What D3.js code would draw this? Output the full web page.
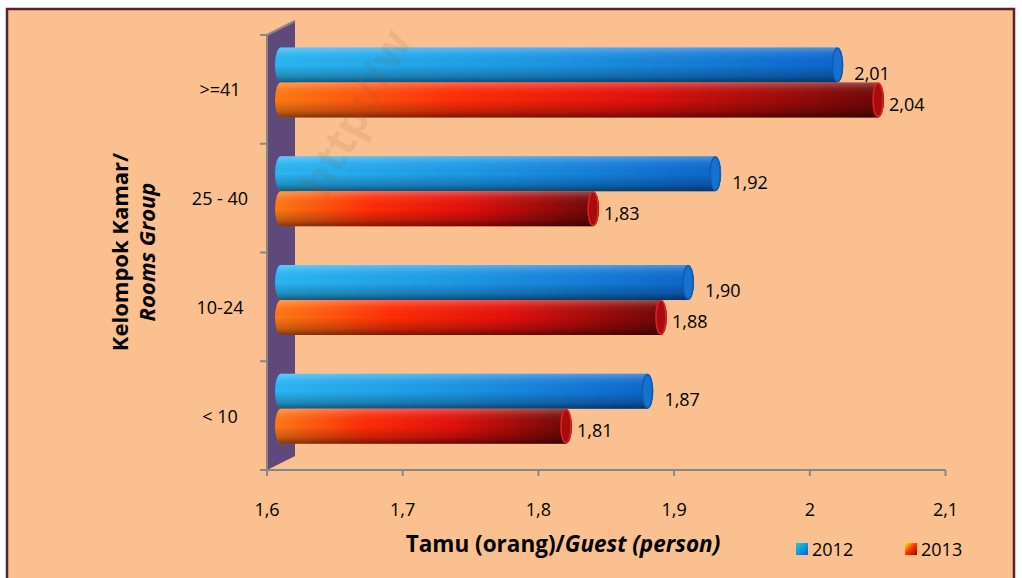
<!DOCTYPE html>
<html>
<head>
<meta charset="utf-8">
<script src="https://cdn.jsdelivr.net/npm/d3@7"></script>
<style>
  html, body { margin: 0; padding: 0; background: #ffffff; }
  svg { display: block; }
  text { font-family: "Open Sans", Lato, "Liberation Sans", sans-serif; fill: #000; }
</style>
</head>
<body>
<svg id="chart" width="1022" height="578"></svg>
<script>
// Average guests per room group, 2012 vs 2013
const categories = [">=41", "25 - 40", "10-24", "< 10"];
const values2012 = [2.01, 1.92, 1.90, 1.87];
const values2013 = [2.04, 1.83, 1.88, 1.81];
const seriesNames = ["2012", "2013"];
const xTickValues = [1.6, 1.7, 1.8, 1.9, 2.0, 2.1];
const xDomain = [1.6, 2.1];
const xTitleMain = "Tamu (orang)/";
const xTitleItalic = "Guest (person)";
const yTitleLine1 = "Kelompok Kamar/";
const yTitleLine2 = "Rooms Group";
const stampText = "http://w";

const series = [
  { name: seriesNames[0], values: values2012 },
  { name: seriesNames[1], values: values2013 }
];

const svg = d3.select("#chart");
const W = 1022, H = 578;

// plot geometry
const plot = { left: 267, right: 945.5, top: 35, bottom: 470 };
const depthX = 28, depthY = -14;       // back wall offset
const barShiftX = 14, barShiftY = -7;  // bars sit halfway into the depth
const capRx = 6;
const barH = 35;
const labelSize = "18px";
const titleSize = "22.5px";

const idFmt = d3.formatLocale({ decimal: ",", thousands: ".", grouping: [3], currency: ["", ""] });
const tickFmt = idFmt.format(".2~f");
const valFmt = idFmt.format(".2f");

const x = d3.scaleLinear().domain(xDomain).range([plot.left, plot.right]);
const y = d3.scaleBand().domain(categories).range([plot.top, plot.bottom]);
const yInner = d3.scaleBand().domain(seriesNames).range([0, barH * 2]);

// ---- gradients ----
const defs = svg.append("defs");
const blueG = defs.append("linearGradient").attr("id", "gBlue")
  .attr("x1", 0).attr("y1", 0).attr("x2", 1).attr("y2", 0);
[[0, "#2ab6f3"], [0.45, "#1c98e6"], [1, "#0c66cc"]].forEach(([o, c]) =>
  blueG.append("stop").attr("offset", o).attr("stop-color", c));
const redG = defs.append("linearGradient").attr("id", "gRed")
  .attr("x1", 0).attr("y1", 0).attr("x2", 1).attr("y2", 0);
[[0, "#ff7a12"], [0.3, "#ff2c06"], [0.6, "#e3100c"], [1, "#6c0707"]].forEach(([o, c]) =>
  redG.append("stop").attr("offset", o).attr("stop-color", c));
const shade = defs.append("linearGradient").attr("id", "gShade")
  .attr("x1", 0).attr("y1", 0).attr("x2", 0).attr("y2", 1);
[[0, "#ffffff", 0.28], [0.18, "#ffffff", 0.08], [0.5, "#000000", 0], [0.82, "#000000", 0.22], [1, "#000000", 0.5]]
  .forEach(([o, c, a]) => shade.append("stop").attr("offset", o).attr("stop-color", c).attr("stop-opacity", a));
const legBlue = defs.append("linearGradient").attr("id", "gLegBlue")
  .attr("x1", 0).attr("y1", 0).attr("x2", 1).attr("y2", 1);
[[0, "#12d4d8"], [1, "#0a5ed8"]].forEach(([o, c]) => legBlue.append("stop").attr("offset", o).attr("stop-color", c));
const legRed = defs.append("linearGradient").attr("id", "gLegRed")
  .attr("x1", 0).attr("y1", 0).attr("x2", 1).attr("y2", 1);
[[0, "#ffee00"], [0.5, "#ff3000"], [1, "#a00000"]].forEach(([o, c]) => legRed.append("stop").attr("offset", o).attr("stop-color", c));

const fills = { "2012": "url(#gBlue)", "2013": "url(#gRed)" };
const capFill = { "2012": "#1672d0", "2013": "#a80c0c" };
const capStroke = { "2012": "#0d5cb4", "2013": "#e42222" };

// ---- background and frame ----
svg.append("rect").attr("x", 0).attr("y", 0).attr("width", W).attr("height", H).attr("fill", "#ffffff");
svg.append("rect").attr("x", 7).attr("y", 9).attr("width", 1007).attr("height", 580)
  .attr("fill", "#fac08f").attr("stroke", "#5e2222").attr("stroke-width", 2.5);

// ---- back wall (left side wall of the 3D plot) ----
const x0 = x(xDomain[0]);
svg.append("path")
  .attr("d", `M${x0},${plot.bottom} L${x0},${plot.top} L${x0 + depthX},${plot.top + depthY} L${x0 + depthX},${plot.bottom + depthY} Z`)
  .attr("fill", "#5f497a");
svg.append("line")
  .attr("x1", x0).attr("y1", plot.top).attr("x2", x0 + depthX).attr("y2", plot.top + depthY)
  .attr("stroke", "#868686").attr("stroke-width", 2);

// ---- axes ----
const axisColor = "#868686";
const yAxisG = svg.append("g");
yAxisG.append("line").attr("x1", x0).attr("x2", x0).attr("y1", plot.top).attr("y2", plot.bottom)
  .attr("stroke", axisColor).attr("stroke-width", 2);
const yBounds = categories.map(c => y(c)).concat([plot.bottom]);
yAxisG.selectAll("line.tick").data(yBounds).enter().append("line").attr("class", "tick")
  .attr("x1", x0 - 7).attr("x2", x0).attr("y1", d => d).attr("y2", d => d)
  .attr("stroke", axisColor).attr("stroke-width", 2);
yAxisG.selectAll("text").data(categories).enter().append("text")
  .attr("x", 220).attr("y", d => y(d) + y.bandwidth() / 2)
  .attr("text-anchor", "middle").attr("dominant-baseline", "central")
  .style("font-size", labelSize).text(d => d);

const xAxisG = svg.append("g");
xAxisG.append("line").attr("x1", x0 - 7).attr("x2", plot.right).attr("y1", plot.bottom).attr("y2", plot.bottom)
  .attr("stroke", axisColor).attr("stroke-width", 2);
xAxisG.selectAll("line.tick").data(xTickValues).enter().append("line").attr("class", "tick")
  .attr("x1", d => x(d)).attr("x2", d => x(d)).attr("y1", plot.bottom).attr("y2", plot.bottom + 6)
  .attr("stroke", axisColor).attr("stroke-width", 2);
xAxisG.selectAll("text").data(xTickValues).enter().append("text")
  .attr("x", d => x(d)).attr("y", 509)
  .attr("text-anchor", "middle").attr("dominant-baseline", "central")
  .style("font-size", labelSize).text(d => tickFmt(d));

// ---- cylinder bars ----
function cylPath(L, R, t, b) {
  const ry = (b - t) / 2;
  return `M${L},${t} L${R},${t} A${capRx},${ry} 0 0 1 ${R},${b} L${L},${b} A${capRx},${ry} 0 0 1 ${L},${t} Z`;
}

const groups = svg.append("g").selectAll("g").data(categories).enter().append("g")
  .attr("transform", d => `translate(0,${y(d) + (y.bandwidth() - barH * 2) / 2 + barShiftY})`);

const bars = groups.selectAll("g.bar")
  .data((c, i) => series.map(s => ({ cat: c, name: s.name, value: s.values[i] })))
  .enter().append("g").attr("class", "bar");

bars.each(function (d) {
  const g = d3.select(this);
  const t = yInner(d.name), b = t + yInner.bandwidth();
  const L = x(xDomain[0]) + barShiftX, R = x(d.value) + barShiftX;
  const p = cylPath(L, R, t, b);
  g.append("path").attr("d", p).attr("fill", fills[d.name]);
  g.append("path").attr("d", p).attr("fill", "url(#gShade)");
  g.append("ellipse").attr("cx", R).attr("cy", (t + b) / 2).attr("rx", capRx - 1).attr("ry", (b - t) / 2 - 0.8)
    .attr("fill", capFill[d.name]).attr("stroke", capStroke[d.name]).attr("stroke-width", 1.5);
  const isFirst = d.name === seriesNames[0];
  g.append("text")
    .attr("x", R + capRx + (isFirst ? 11 : 5))
    .attr("y", (t + b) / 2 + (isFirst ? 8 : 4))
    .attr("dominant-baseline", "central")
    .style("font-size", labelSize)
    .text(valFmt(d.value));
});

// ---- axis titles ----
const xt = svg.append("text").attr("x", 563).attr("y", 543)
  .attr("text-anchor", "middle").attr("dominant-baseline", "central")
  .style("font-size", titleSize).style("font-weight", "bold");
xt.append("tspan").text(xTitleMain);
xt.append("tspan").style("font-style", "italic").text(xTitleItalic);

const yt = svg.append("text").attr("transform", "translate(133,252) rotate(-90)")
  .attr("text-anchor", "middle").style("font-size", "22px").style("font-weight", "bold");
yt.append("tspan").attr("x", 0).attr("dy", "-0.25em").text(yTitleLine1);
yt.append("tspan").attr("x", 0).attr("dy", "1.25em").style("font-style", "italic").text(yTitleLine2);

// ---- legend ----
const legend = svg.append("g");
const legendX = [796, 905];
seriesNames.forEach((n, i) => {
  legend.append("rect").attr("x", legendX[i]).attr("y", 543).attr("width", 12).attr("height", 12)
    .attr("fill", i === 0 ? "url(#gLegBlue)" : "url(#gLegRed)");
  legend.append("text").attr("x", legendX[i] + 16).attr("y", 549)
    .attr("dominant-baseline", "central").style("font-size", labelSize).text(n);
});

// ---- faint diagonal site stamp ----
svg.append("text").attr("transform", "translate(326,200) rotate(-61.5)")
  .style("font-size", "44px").style("font-weight", "bold")
  .style("fill", "#8a5a3a").style("fill-opacity", 0.12)
  .text(stampText);
</script>
</body>
</html>
